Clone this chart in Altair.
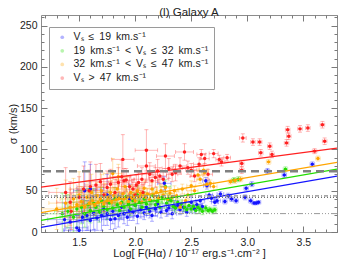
import altair as alt
import pandas as pd

# ---------------- data ----------------
SP = " \u2009"   # slightly wider word gap, as in the reference legend
GROUPS = ["Vₛ ≤ 19 km.s⁻¹", "19 km.s⁻¹ < Vₛ ≤ 32 km.s⁻¹",
          "32 km.s⁻¹ < Vₛ ≤ 47 km.s⁻¹", "Vₛ > 47 km.s⁻¹"]
GROUP_LABELS = [g.replace(" ", SP) for g in GROUPS]
COLORS = ["#1414ff", "#22dd00", "#ffa500", "#ff2020"]

BLUE_X = [1.37, 1.42, 1.48, 1.50, 1.53, 1.55, 1.57, 1.60, 1.60, 1.63, 1.66, 1.70, 1.72, 1.75, 1.75, 1.78, 1.80, 1.82,
          1.85, 1.88, 1.90, 1.93, 1.95, 1.95, 1.98, 2.00, 2.02, 2.05, 2.08, 2.10, 2.13, 2.15, 2.18, 2.20, 2.23, 2.26,
          2.28, 2.30, 2.33, 2.35, 2.38, 2.40, 2.43, 2.46, 2.50, 2.53, 2.55, 2.58, 2.60, 2.63, 2.64, 2.66, 2.68, 2.71,
          2.73, 2.76, 2.80, 2.83, 2.86, 2.90, 2.98, 2.99, 3.04, 3.03, 3.06, 3.08, 3.10, 3.18, 3.33, 3.58]
BLUE_Y = [15, 12, 5, 2, 18, 50, 20, 14, 52, 23, 17, 20, 28, 22, 45, 15, 25, 16,
          20, 30, 22, 18, 26, 40, 24, 32, 19, 27, 23, 30, 25, 20, 28, 34, 24, 59,
          26, 29, 22, 31, 32, 27, 30, 24, 36, 28, 33, 38, 31, 62, 56, 45, 41, 36,
          38, 46, 37, 44, 40, 38, 42, 53, 58, 38, 35, 35, 36, 74, 69, 82]
BLUE_XE = [.15, .12, .10, .14, .12, .10, .15, .08, .12, .10, .12, .10, .08, .12, .10, .08, .10, .08,
           .10, .07, .09, .06, .08, .10, .06, .07, .06, .08, .05, .07, .06, .05, .06, .07, .05, .06,
           .05, .06, .04, .05, .04, .05, .04, .04, .05, .04, .04, .04, .03, .03, .03, .03, .03, .03,
           .03, .03, .02, .02, .02, .02, .02, .02, .02, .02, .02, .02, .02, .02, .02, .02]
BLUE_YE = [20, 18, 15, 20, 22, 35, 18, 15, 30, 20, 15, 18, 20, 14, 25, 12, 15, 12,
           14, 15, 12, 10, 12, 18, 10, 12, 9, 10, 8, 10, 8, 7, 9, 10, 7, 8,
           7, 8, 6, 7, 6, 6, 5, 5, 6, 5, 5, 5, 4, 4, 4, 4, 4, 4,
           3, 3, 3, 3, 3, 3, 3, 3, 3, 3, 2, 2, 2, 3, 3, 3]

GREEN_X = [1.35, 1.40, 1.45, 1.48, 1.52, 1.55, 1.58, 1.60, 1.63, 1.65, 1.68, 1.70, 1.72, 1.75, 1.77, 1.80, 1.82,
           1.84, 1.86, 1.88, 1.90, 1.92, 1.94, 1.96, 1.98, 2.00, 2.02, 2.04, 2.06, 2.08, 2.10, 2.12, 2.14, 2.16,
           2.18, 2.20, 2.22, 2.24, 2.27, 2.28, 2.30, 2.32, 2.34, 2.36, 2.38, 2.41, 2.44, 2.46, 2.48, 2.50, 2.52,
           2.54, 2.56, 2.58, 2.60, 2.63, 2.65, 2.67, 2.69, 2.71, 2.88, 2.92, 3.34]
GREEN_Y = [22, 25, 18, 28, 30, 22, 33, 26, 35, 30, 24, 38, 31, 27, 35, 29, 40,
           33, 26, 36, 30, 43, 34, 28, 38, 32, 45, 36, 30, 40, 34, 28, 38, 44,
           33, 37, 30, 42, 55, 35, 39, 38, 31, 29, 36, 34, 30, 27, 32, 28, 31,
           26, 30, 28, 25, 29, 26, 27, 25, 27, 63, 64, 76]
GREEN_XE = [.15, .12, .12, .10, .12, .10, .10, .08, .10, .08, .08, .09, .07, .08, .07, .06, .08,
            .06, .06, .07, .05, .07, .06, .05, .06, .05, .06, .05, .05, .05, .05, .04, .05, .05,
            .04, .04, .04, .05, .05, .04, .04, .04, .04, .04, .04, .04, .03, .03, .03, .03, .03,
            .03, .03, .03, .03, .03, .03, .03, .03, .02, .02, .02, .02]
GREEN_YE = [25, 20, 18, 22, 20, 16, 20, 15, 18, 15, 12, 16, 12, 12, 14, 10, 14,
            10, 9, 11, 9, 12, 9, 8, 10, 8, 11, 8, 7, 9, 7, 6, 8, 9,
            6, 7, 6, 7, 8, 6, 6, 6, 5, 5, 5, 5, 5, 4, 4, 4, 4,
            4, 4, 4, 4, 3, 3, 3, 3, 3, 3, 3, 3]

ORANGE_X = [1.30, 1.38, 1.42, 1.45, 1.48, 1.50, 1.52, 1.55, 1.57, 1.59, 1.61, 1.62, 1.64, 1.66, 1.67, 1.69,
            1.70, 1.72, 1.73, 1.75, 1.76, 1.78, 1.79, 1.80, 1.81, 1.83, 1.84, 1.85, 1.86, 1.87, 1.89, 1.90,
            1.91, 1.93, 1.94, 1.96, 1.97, 1.99, 2.00, 2.02, 2.03, 2.05, 2.06, 2.08, 2.09, 2.11, 2.13, 2.15,
            2.17, 2.19, 2.21, 2.23, 2.25, 2.27, 2.29, 2.31, 2.33, 2.35, 2.37, 2.40, 2.42, 2.45, 2.47, 2.50,
            2.53, 2.56, 2.58, 2.61, 2.62, 2.64, 2.67, 2.70, 2.85, 2.89, 2.94, 3.19, 3.63]
ORANGE_Y = [28, 35, 30, 40, 33, 45, 37, 30, 42, 35, 48, 38, 32, 44, 36, 40,
            50, 34, 45, 38, 42, 48, 36, 71, 44, 39, 52, 67, 41, 35, 46, 40,
            55, 43, 37, 48, 41, 45, 38, 50, 43, 47, 36, 53, 42, 46, 39, 52,
            44, 48, 41, 50, 45, 54, 40, 47, 42, 50, 44, 30, 52, 38, 45, 56,
            50, 69, 64, 75, 72, 58, 59, 55, 61, 62, 64, 85, 89]
ORANGE_XE = [.14, .15, .12, .12, .10, .12, .10, .10, .10, .08, .10, .08, .08, .09, .07, .08,
             .10, .07, .08, .06, .07, .08, .06, .08, .06, .06, .07, .08, .05, .05, .06, .05,
             .06, .05, .05, .06, .05, .05, .04, .05, .04, .05, .04, .05, .04, .04, .04, .05,
             .04, .04, .04, .04, .04, .04, .03, .04, .03, .04, .03, .03, .04, .03, .03, .04,
             .03, .04, .03, .04, .03, .03, .03, .03, .02, .02, .02, .02, .02]
ORANGE_YE = [25, 28, 22, 25, 20, 28, 18, 16, 20, 15, 22, 14, 12, 16, 12, 14,
             20, 10, 14, 10, 12, 14, 9, 18, 10, 9, 12, 15, 8, 8, 10, 8,
             12, 8, 7, 9, 7, 8, 6, 9, 7, 8, 6, 9, 6, 7, 6, 8,
             6, 7, 6, 7, 6, 7, 5, 6, 5, 6, 5, 5, 6, 4, 5, 6,
             5, 6, 5, 5, 4, 4, 4, 4, 3, 3, 3, 3, 3]

RED_X = [1.38, 1.42, 1.43, 1.50, 1.54, 1.59, 1.60, 1.65, 1.69, 1.72, 1.75, 1.78, 1.82, 1.85, 1.88, 1.89,
         1.90, 1.92, 1.95, 1.98, 2.00, 2.01, 2.03, 2.06, 2.07, 2.10, 2.10, 2.13, 2.15, 2.18, 2.20, 2.22,
         2.25, 2.27, 2.30, 2.33, 2.36, 2.40, 2.44, 2.47, 2.50, 2.53, 2.57, 2.59, 2.62, 2.65, 2.70, 2.75,
         2.77, 2.82, 2.95, 2.95, 2.96, 3.05, 3.11, 3.12, 3.20, 3.22, 3.35, 3.36, 3.37, 3.47, 3.54, 3.60,
         3.67, 3.69]
RED_Y = [48, 36, 25, 42, 52, 50, 55, 57, 61, 45, 54, 58, 48, 60, 67, 88,
         62, 63, 55, 52, 45, 57, 60, 64, 48, 99, 80, 70, 62, 66, 74, 68,
         64, 92, 77, 70, 72, 80, 97, 78, 75, 68, 82, 94, 89, 70, 95, 88,
         85, 90, 83, 75, 114, 109, 109, 96, 104, 94, 108, 124, 116, 125, 126, 98,
         130, 110]
RED_XE = [.15, .12, .12, .12, .12, .10, .12, .10, .10, .09, .10, .08, .08, .09, .08, .10,
          .07, .07, .07, .06, .06, .07, .06, .07, .06, .10, .08, .07, .06, .06, .07, .06,
          .05, .08, .06, .05, .05, .06, .08, .05, .05, .04, .05, .04, .04, .04, .04, .03,
          .03, .03, .02, .02, .03, .02, .02, .02, .02, .02, .02, .02, .02, .02, .02, .02,
          .02, .02]
RED_YE = [30, 25, 22, 25, 28, 25, 30, 25, 22, 20, 20, 18, 16, 18, 20, 30,
          15, 14, 12, 12, 10, 12, 12, 14, 10, 25, 20, 14, 10, 12, 14, 10,
          9, 15, 12, 9, 10, 10, 10, 8, 8, 7, 8, 6, 6, 6, 5, 5,
          5, 4, 4, 4, 5, 4, 4, 4, 4, 4, 4, 4, 4, 4, 4, 3,
          4, 4]

# linear fits: values at the two ends of the x range
FIT_X = [1.16, 3.8]
FIT_Y = [[5.7, 67.8], [14.2, 76.3], [23.5, 84.4], [54.5, 101.7]]

# horizontal reference levels (km/s)
HLINE_DASHED = [73.5]
HLINE_DASHDOT = [43.8]
HLINE_DOTTED = [42.0]
HLINE_DASHDOTDOT = [22.3]

X_DOMAIN = [1.16, 3.8]
Y_DOMAIN = [0, 263]
X_MAJOR = [1.5, 2.0, 2.5, 3.0, 3.5]
X_MINOR = [1.2, 1.3, 1.4, 1.5, 1.6, 1.7, 1.8, 1.9, 2.0, 2.1, 2.2, 2.3, 2.4, 2.5, 2.6, 2.7, 2.8, 2.9,
           3.0, 3.1, 3.2, 3.3, 3.4, 3.5, 3.6, 3.7, 3.8]
Y_MAJOR = [0, 50, 100, 150, 200, 250]
Y_MINOR = [0, 10, 20, 30, 40, 50, 60, 70, 80, 90, 100, 110, 120, 130, 140, 150, 160, 170, 180, 190,
           200, 210, 220, 230, 240, 250, 260]

# ---------------- build tables ----------------
series = [(BLUE_X, BLUE_Y, BLUE_XE, BLUE_YE), (GREEN_X, GREEN_Y, GREEN_XE, GREEN_YE),
          (ORANGE_X, ORANGE_Y, ORANGE_XE, ORANGE_YE), (RED_X, RED_Y, RED_XE, RED_YE)]
rows = []
for g, c, (xs_, ys_, xes, yes) in zip(GROUP_LABELS, COLORS, series):
    for x, y, xe, ye in zip(xs_, ys_, xes, yes):
        rows.append(dict(g=g, col=c, x=x, y=y, xlo=x - xe, xhi=x + xe, ylo=y - ye, yhi=y + ye))
df = pd.DataFrame(rows)

W, H = 296, 217
FONT = "Liberation Sans"
TICK = "#7a7a7a"
xs = alt.Scale(domain=X_DOMAIN, nice=False, zero=False)
ys = alt.Scale(domain=Y_DOMAIN, nice=False, zero=False)
color_scale = alt.Scale(domain=GROUP_LABELS, range=COLORS)
col_id = alt.Color("col:N", scale=None)   # identity colour, no legend

base = alt.Chart(df)
ERR_OP = 0.32

xbars = base.mark_rule(opacity=ERR_OP, strokeWidth=1, clip=True).encode(
    x=alt.X("xlo:Q", scale=xs, axis=None), x2="xhi:Q",
    y=alt.Y("y:Q", scale=ys, axis=None), color=col_id)
ybars = base.mark_rule(opacity=ERR_OP, strokeWidth=1, clip=True).encode(
    x=alt.X("x:Q", scale=xs, axis=None),
    y=alt.Y("ylo:Q", scale=ys, axis=None), y2="yhi:Q", color=col_id)
xcaps = base.transform_fold(["xlo", "xhi"], as_=["k", "xv"]).mark_tick(
    orient="vertical", size=4, thickness=1, opacity=ERR_OP, clip=True).encode(
    x=alt.X("xv:Q", scale=xs, axis=None), y=alt.Y("y:Q", scale=ys, axis=None), color=col_id)
ycaps = base.transform_fold(["ylo", "yhi"], as_=["k", "yv"]).mark_tick(
    orient="horizontal", size=4, thickness=1, opacity=ERR_OP, clip=True).encode(
    x=alt.X("x:Q", scale=xs, axis=None), y=alt.Y("yv:Q", scale=ys, axis=None), color=col_id)

points = base.mark_point(filled=True, shape="circle", size=12, opacity=1, clip=True).encode(
    x=alt.X("x:Q", scale=xs, axis=None),
    y=alt.Y("y:Q", scale=ys, axis=None),
    color=alt.Color("g:N", scale=color_scale, sort=GROUP_LABELS,
                    legend=alt.Legend(orient="none", legendX=8, legendY=12, title=None,
                                      symbolType="circle", symbolOpacity=1)))


def hline(vals, **style):
    return alt.Chart(pd.DataFrame({"y": vals})).mark_rule(clip=True, **style).encode(
        y=alt.Y("y:Q", scale=ys, axis=None))


h1 = hline(HLINE_DASHED, color="#808080", strokeWidth=2.5, strokeDash=[8, 5])
h2 = hline(HLINE_DASHDOT, color="#8a8a8a", strokeWidth=1.2, strokeDash=[4, 2, 1, 2])
h3 = hline(HLINE_DOTTED, color="#555555", strokeWidth=1, strokeDash=[1, 2])
h4 = hline(HLINE_DASHDOTDOT, color="#999999", strokeWidth=1, strokeDash=[6, 2, 1, 2, 1, 2, 1, 2])


def ax(orient, values, size, **kw):
    return alt.Axis(orient=orient, values=values, tickSize=size, offset=-size, domain=False,
                    grid=False, ticks=True, tickColor=TICK, tickWidth=1, **kw)


LBL = dict(labelFont=FONT, labelFontSize=10.5, labelColor="#222222")
TTL = dict(titleFont=FONT, titleFontSize=11, titleFontWeight="normal", titleColor="#222222")
NOEXT = dict(labels=False, title=None, minExtent=0, maxExtent=0)

axes = [
    (ax("bottom", X_MAJOR, 6, labels=True, format=".1f", labelPadding=5, labelFlush=False,
        title="Log[ F(Hα) / 10⁻¹⁷ erg.s⁻¹.cm⁻² ]", titleX=W / 2, titleY=30,
        titleAlign="center", titleBaseline="alphabetic", **LBL, **TTL),
     ax("left", Y_MAJOR, 6, labels=True, format="d", labelPadding=4, labelFlush=False,
        title="σ (km/s)", titleX=-34, titleY=H / 2, titleAngle=270, titleAlign="center",
        titleBaseline="middle", **LBL, **TTL)),
    (ax("bottom", X_MINOR, 3, **NOEXT), ax("left", Y_MINOR, 3, **NOEXT)),
    (ax("top", X_MAJOR, 6, **NOEXT), ax("right", Y_MAJOR, 6, **NOEXT)),
    (ax("top", X_MINOR, 3, **NOEXT), ax("right", Y_MINOR, 3, **NOEXT)),
]

fits = []
for (axx, axy), fy, c in zip(axes, FIT_Y, COLORS):
    fdf = pd.DataFrame({"x": FIT_X, "y": fy})
    fits.append(alt.Chart(fdf).mark_line(color=c, strokeWidth=1.2, clip=True).encode(
        x=alt.X("x:Q", scale=xs, axis=axx), y=alt.Y("y:Q", scale=ys, axis=axy)))

chart = alt.layer(xbars, ybars, xcaps, ycaps, points, *fits, h1, h2, h3, h4).resolve_axis(
    x="independent", y="independent"
).properties(
    width=W, height=H,
    title=alt.TitleParams("(l) Galaxy A", font=FONT, fontSize=11.5, fontWeight="normal",
                          color="#222222", anchor="middle", frame="group", offset=0, dy=13,
                          baseline="alphabetic"),
    autosize=alt.AutoSizeParams(type="none"),
    padding={"left": 33, "top": 7, "right": 9, "bottom": 29},
).configure_view(stroke="#8c8c8c", strokeWidth=1).configure_legend(
    strokeColor="#9a9a9a", fillColor="white", padding=5, cornerRadius=0,
    labelFont=FONT, labelFontSize=10.5, labelColor="#222222",
    symbolSize=14, symbolStrokeWidth=0,
    rowPadding=2.6, labelOffset=6, symbolOffset=3, labelLimit=300,
)

chart.save("out.html", embed_options={"renderer": "svg", "actions": False})
